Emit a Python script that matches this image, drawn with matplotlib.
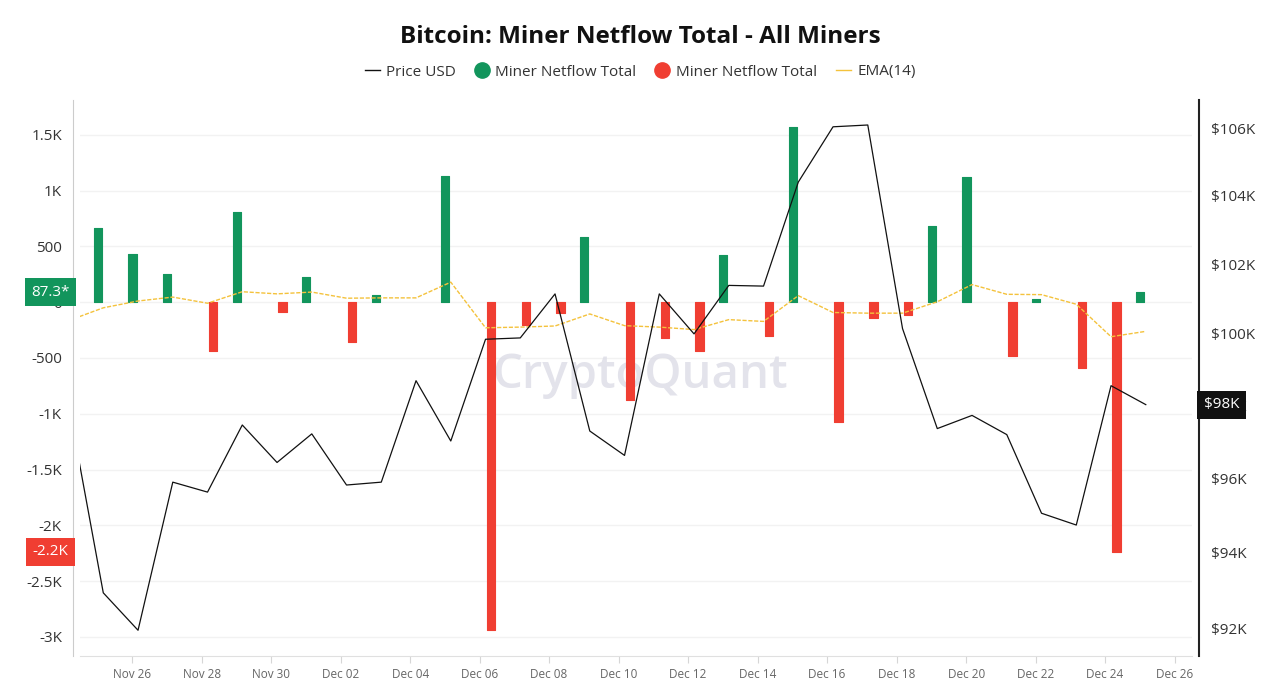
import matplotlib
matplotlib.use("Agg")
import matplotlib.pyplot as plt
import matplotlib.dates as mdates
import matplotlib.transforms as mtransforms
from matplotlib.lines import Line2D
from matplotlib.ticker import FixedLocator, FixedFormatter, NullLocator
import numpy as np
import pandas as pd

plt.rcParams['font.family'] = ['Open Sans', 'DejaVu Sans']

# ---------------- data ----------------
dates = pd.date_range("2024-11-24", "2024-12-25", freq="D")

netflow = [np.nan, 665, 435, 250, -435, 806, -90, 227,
           -355, 61, 0, 1126, -2941, -205, -102, 582, -877, -323, -435, 426,
           -307, 1571, -1075, -138, -112, 678, 1123, -486, 29, -589, -2237, 87.3]

price = [98040, 92930, 91950, 95890, 95620, 97455, 96426, 97210,
         95812, 95890, 98686, 97014, 99851, 99889, 101142, 97289, 96619, 101142,
         100003, 101386, 101366, 104397, 106045, 106099, 100153, 97356, 97720,
         97190, 95049, 94732, 98546, 98019]

ema14 = [-166, -51, 10, 45, -10, 93, 74, 90,
         35, 38, 38, 179, -230, -224, -214, -106, -211, -224, -246, -157,
         -173, 58, -93, -99, -99, 3, 157, 70, 67, -19, -310, -262]

left_ticks = [1500, 1000, 500, 0, -500, -1000, -1500, -2000, -2500, -3000]
left_labels = ["1.5K", "1K", "500", "0", "-500", "-1K", "-1.5K", "-2K", "-2.5K", "-3K"]
right_ticks = [92000, 94000, 96000, 98000, 100000, 102000, 104000, 106000]
right_labels = ["$92K", "$94K", "$96K", "$98K", "$100K", "$102K", "$104K", "$106K"]
xtick_dates = pd.date_range("2024-11-26", "2024-12-26", freq="2D")

GREEN = "#12955c"
RED = "#f03e32"
EMA_C = "#f4c23c"

# ---------------- figure ----------------
fig = plt.figure(figsize=(12.8, 6.87), dpi=100)
ax = fig.add_axes([80 / 1280, 1 - 656 / 687, 1112 / 1280, 556 / 687])
ax2 = ax.twinx()

x = mdates.date2num(dates) + 0.17
nf = np.array(netflow, dtype=float)
pos = np.where(nf > 0, nf, np.nan)
neg = np.where(nf < 0, nf, np.nan)
bw = 0.24
ax.bar(x - 0.16, pos, width=bw, color=GREEN, edgecolor=GREEN, linewidth=0.8,
       joinstyle='round', zorder=2)
ax.bar(x + 0.16, neg, width=bw, color=RED, edgecolor=RED, linewidth=0.8,
       joinstyle='round', zorder=2)
ax.plot(x, ema14, color=EMA_C, lw=1.0, dashes=(3, 1.2), zorder=3)

ax2.plot(x, price, color="#111111", lw=0.9, zorder=4)

# axes limits & scales
ax.set_xlim(mdates.date2num(pd.Timestamp("2024-11-24")) + 0.5,
            mdates.date2num(pd.Timestamp("2024-12-26")) + 0.5)
ax.set_ylim(-3171, 1811)
ax2.set_yscale('log')
ax2.set_ylim(91282, 106853)

# left axis
ax.yaxis.set_major_locator(FixedLocator(left_ticks))
ax.yaxis.set_major_formatter(FixedFormatter(left_labels))
ax.yaxis.set_minor_locator(NullLocator())
ax.tick_params(axis='y', length=0, pad=8, labelsize=11, labelcolor="#333333")
ax.grid(axis='y', color="#f2f2f2", lw=1)
ax.set_axisbelow(True)

# right axis
ax2.yaxis.set_major_locator(FixedLocator(right_ticks))
ax2.yaxis.set_major_formatter(FixedFormatter(right_labels))
ax2.yaxis.set_minor_locator(NullLocator())
ax2.tick_params(axis='y', length=0, pad=9, labelsize=11, labelcolor="#333333")

# x axis
ax.xaxis.set_major_locator(FixedLocator(mdates.date2num(xtick_dates)))
ax.xaxis.set_major_formatter(mdates.DateFormatter("%b %d"))
ax.tick_params(axis='x', length=5, color="#d6d6d6", pad=4, labelsize=8.5,
               labelcolor="#666666")

# spines
for s in ["top", "right"]:
    ax.spines[s].set_visible(False)
ax.spines["left"].set_position(("outward", 5))
ax.spines["left"].set_color("#cccccc")
ax.spines["bottom"].set_color("#e0e0e0")
for s in ["top", "left", "bottom"]:
    ax2.spines[s].set_visible(False)
ax2.spines["right"].set_position(("outward", 5))
ax2.spines["right"].set_color("#222222")
ax2.spines["right"].set_linewidth(1.5)

# watermark
ax.text(0.5036, 0.505, "CryptoQuant", transform=ax.transAxes, ha="center",
        va="center", fontsize=34, color="#dcdce6", alpha=0.8,
        fontweight="semibold", zorder=1)

# flags
tl = mtransforms.blended_transform_factory(fig.transFigure, ax.transData)
ax.text(50.5 / 1280, 87.3, "87.3*", transform=tl, ha="center", va="center",
        color="white", fontsize=11, zorder=10, clip_on=False,
        bbox=dict(boxstyle="square,pad=0.42", fc=GREEN, ec="none"))
ax.text(50.5 / 1280, -2237, "-2.2K", transform=tl, ha="center", va="center",
        color="white", fontsize=11, zorder=10, clip_on=False,
        bbox=dict(boxstyle="square,pad=0.42", fc=RED, ec="none"))
tr = mtransforms.blended_transform_factory(fig.transFigure, ax2.transData)
ax2.text(1221.5 / 1280, price[-1], "$98K", transform=tr, ha="center",
         va="center", color="white", fontsize=11, zorder=10, clip_on=False,
         bbox=dict(boxstyle="square,pad=0.42", fc="#111111", ec="none"))

# title & legend
fig.text(0.5, 1 - 37 / 687, "Bitcoin: Miner Netflow Total - All Miners",
         ha="center", va="center", fontsize=17.5, fontweight="bold",
         color="#111111")
handles = [
    Line2D([], [], color="#111111", lw=1),
    Line2D([], [], color=GREEN, marker="o", ls="none", markersize=11),
    Line2D([], [], color=RED, marker="o", ls="none", markersize=11),
    Line2D([], [], color=EMA_C, lw=1),
]
labels = ["Price USD", "Miner Netflow Total", "Miner Netflow Total", "EMA(14)"]
fig.legend(handles, labels, loc="center", bbox_to_anchor=(0.5, 1 - 72 / 687),
           ncol=4, frameon=False, fontsize=11, handlelength=1.0,
           handletextpad=0.4, columnspacing=1.2, labelcolor="#333333")

fig.savefig("out.png", dpi=100)
